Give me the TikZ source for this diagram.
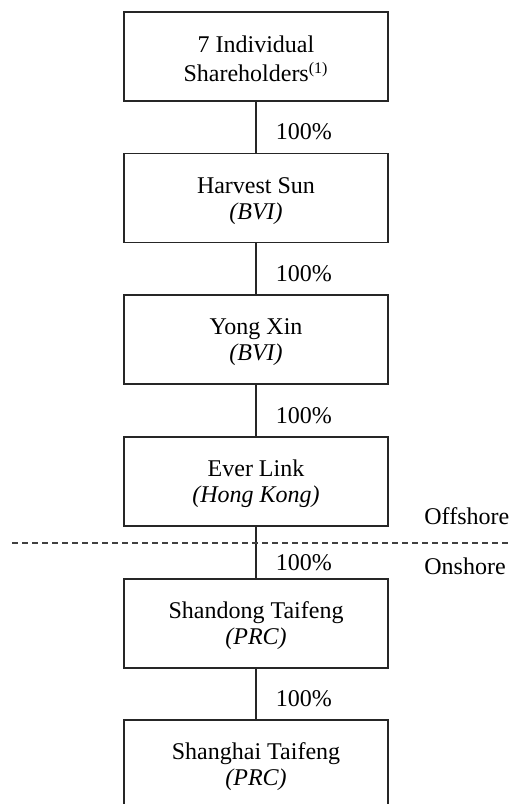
\documentclass[tikz,border=0pt]{standalone}
\usepackage{fontspec}
\setmainfont{Liberation Serif}
\newcommand{\toppad}{\rule{0pt}{11pt}}
\begin{document}
\begin{tikzpicture}[x=0.5pt,y=-0.5pt,
  ent/.style={draw=black!85, line width=0.6pt, minimum width=132pt, minimum height=44.5pt, inner sep=0pt, align=center, font=\fontsize{12}{13}\selectfont},
  pct/.style={anchor=base west, inner sep=0pt, font=\fontsize{12}{13}\selectfont},
  side/.style={anchor=base west, inner sep=0pt, font=\fontsize{12}{13}\selectfont},
  link/.style={draw=black!85, line width=0.6pt},
  border/.style={draw=black!75, line width=0.6pt, dash pattern=on 3pt off 2pt}]
\useasboundingbox (0,0) rectangle (510,804);
\clip (0,0) rectangle (510,804);
\node[ent] (a) at (256,56.5) {\toppad 7 Individual\\[1.5pt]Shareholders\textsuperscript{(1)}};
\node[ent] (b) at (256,198) {\toppad Harvest Sun\\\textit{(BVI)}};
\node[ent] (c) at (256,339.5) {\toppad Yong Xin\\\textit{(BVI)}};
\node[ent] (d) at (256,481.5) {\toppad Ever Link\\\textit{(Hong Kong)}};
\node[ent] (e) at (256,623.5) {\toppad Shandong Taifeng\\\textit{(PRC)}};
\node[ent] (f) at (256,764.5) {\toppad Shanghai Taifeng\\\textit{(PRC)}};
\draw[link] (a.south) -- (b.north);
\draw[link] (b.south) -- (c.north);
\draw[link] (c.south) -- (d.north);
\draw[link] (d.south) -- (e.north);
\draw[link] (e.south) -- (f.north);
\node[pct] (p1) at (275.5,139) {100\%};
\node[pct] (p2) at (275.5,281) {100\%};
\node[pct] (p3) at (275.5,423) {100\%};
\node[pct] (p4) at (275.5,570) {100\%};
\node[pct] (p5) at (275.5,706) {100\%};
\coordinate (dl) at (12,543);
\coordinate (dr) at (512,543);
\draw[border] (dl) -- (dr);
\node[side] (off) at (424,524) {Offshore};
\node[side] (on) at (424,574) {Onshore};
\end{tikzpicture}
\end{document}
